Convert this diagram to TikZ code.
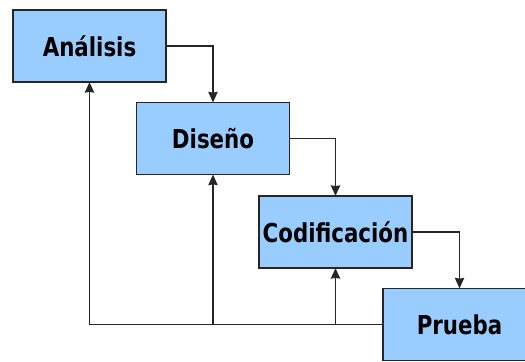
\documentclass[tikz,border=0pt]{standalone}
\usepackage{fontspec}
\usetikzlibrary{arrows.meta}
\newfontfamily\boxfont{DejaVu Sans}[FakeStretch=0.82]
\definecolor{boxblue}{HTML}{99CCFF}
\begin{document}
\begin{tikzpicture}[x=0.025cm, y=-0.025cm,
    phase/.style={draw=black!85, fill=boxblue, line width=0.9pt,
      minimum width=3.825cm, minimum height=1.8cm, inner sep=0pt,
      outer sep=0pt, font=\boxfont\bfseries\fontsize{18.5}{20}\selectfont}]
    \useasboundingbox (0,0) rectangle (525,361);
    \clip (0,0) rectangle (525,361);
    \begin{scope}[every node/.style={phase}]
      \node (ana) at (89.5,46) {Análisis}; \node (dis) at (213,138.5)
      {Diseño}; \node (cod) at (335.5,232) {Codificación};
      \node (pru) at (459.5,324.5) {Prueba};
    \end{scope}
    \coordinate (r1) at (dis.south |- pru.west);
    \coordinate (r2) at (cod.south |- pru.west);
    \begin{scope}[->, line width=1.4pt, draw=black!85,
        >={Stealth[length=7.5pt, width=6.5pt, inset=0.5pt]}]
      \draw (ana.east) -| (dis.north); \draw (dis.east) -| (cod.north);
      \draw (cod.east) -| (pru.north); \draw (pru.west) -| (ana.south);
      \draw (r1) -- (dis.south); \draw (r2) -- (cod.south);
    \end{scope}
  \end{tikzpicture}
\end{document}
